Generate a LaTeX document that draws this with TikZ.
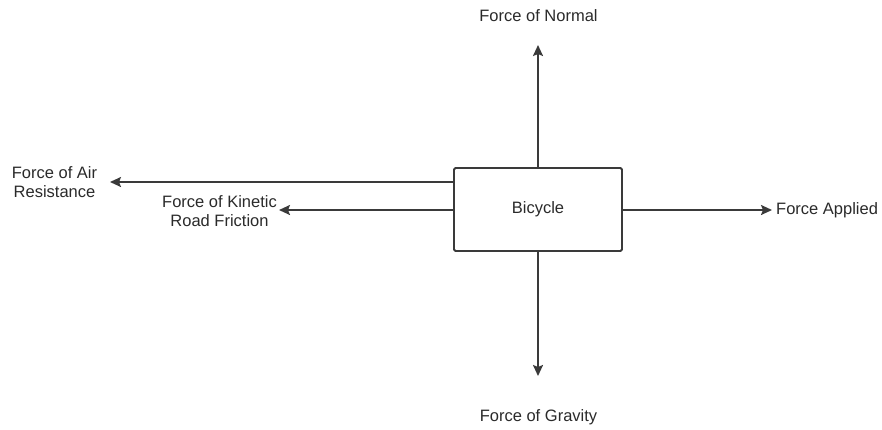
\documentclass[tikz,border=0pt]{standalone}
\usepackage{fontspec}
\setmainfont{Liberation Sans}
\usetikzlibrary{arrows.meta}
\definecolor{ink}{HTML}{2A2A2A}
\definecolor{linec}{HTML}{3A3A3A}
\begin{document}
\begin{tikzpicture}[x=1pt,y=-1pt,
  lbl/.style={text=ink,font=\fontsize{16.5}{19.5}\selectfont,align=center,inner sep=0pt},
  arr/.style={draw=linec,line width=1.9pt,-{Stealth[length=11pt,width=10pt,inset=2pt]}},
  boxst/.style={draw=linec,line width=1.9pt,rounded corners=1.5pt,minimum width=168pt,minimum height=83pt,inner sep=0pt,text=ink,font=\fontsize{16.5}{19.5}\selectfont}]
\useasboundingbox (0,0) rectangle (882,429);
\node[boxst] (box) at (538,209.5) {Bicycle};
\coordinate (upEnd) at (538,45);
\coordinate (downEnd) at (538,376);
\coordinate (rightEnd) at (772,210);
\coordinate (airEnd) at (110,182);
\coordinate (kinEnd) at (279,210);
\draw[arr] (box.north) -- (upEnd);
\draw[arr] (box.south) -- (downEnd);
\draw[arr] (box.east |- rightEnd) -- (rightEnd);
\draw[arr] (box.west |- airEnd) -- (airEnd);
\draw[arr] (box.west |- kinEnd) -- (kinEnd);
\node[lbl] (normal) at (538.5,16) {Force of Normal};
\node[lbl] (gravity) at (538.5,417) {Force of Gravity};
\node[lbl,anchor=west] (applied) at (776,210.5) {Force Applied};
\node[lbl] (air) at (54.5,182) {Force of Air\\Resistance};
\node[lbl,anchor=east] (kin) at (277,211) {Force of Kinetic\\Road Friction};
\end{tikzpicture}
\end{document}
